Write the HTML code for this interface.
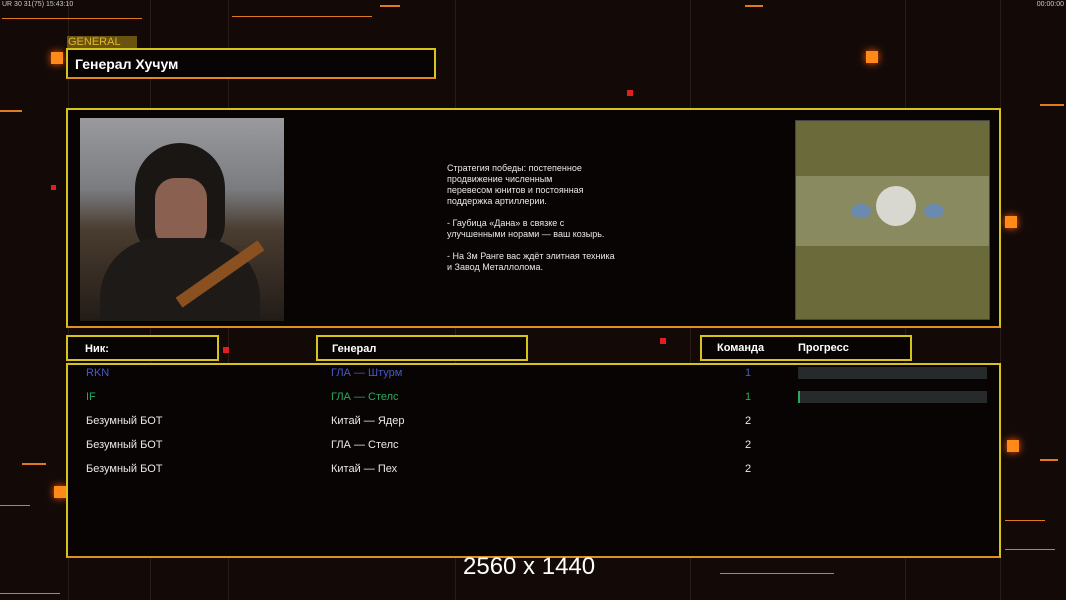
<!DOCTYPE html>
<html><head><meta charset="utf-8"><style>
*{margin:0;padding:0;box-sizing:border-box}
body{width:1066px;height:600px;background:#130a08;position:relative;overflow:hidden;font-family:"Liberation Sans",sans-serif;color:#fff}
.a{position:absolute}
.box{position:absolute;border:2px solid #d8c418;background:#080403}
.t{position:absolute;font-size:11px;color:#e8e8e8}
.h{position:absolute;font-size:11px;font-weight:bold;color:#fff}
.sq{position:absolute;background:#ff8a1a;box-shadow:0 0 8px #ff5a00}
.ln{position:absolute;height:2px;background:#e07a20}
.v{position:absolute;width:1px;background:#2a1d18;top:0;height:600px}
</style></head><body>
<div class="v" style="left:68px"></div><div class="v" style="left:150px"></div><div class="v" style="left:228px"></div><div class="v" style="left:455px"></div><div class="v" style="left:690px"></div><div class="v" style="left:905px"></div><div class="v" style="left:1000px"></div>
<div class="ln" style="left:2px;top:18px;width:140px;height:1px"></div>
<div class="ln" style="left:232px;top:16px;width:140px;height:1px"></div>
<div class="ln" style="left:380px;top:5px;width:20px"></div>
<div class="ln" style="left:745px;top:5px;width:18px"></div>
<div class="ln" style="left:0;top:110px;width:22px"></div>
<div class="ln" style="left:1040px;top:104px;width:24px"></div>
<div class="ln" style="left:1040px;top:459px;width:18px"></div>
<div class="ln" style="left:22px;top:463px;width:24px"></div>
<div class="ln" style="left:0;top:505px;width:30px;height:1px"></div>
<div class="ln" style="left:720px;top:573px;width:114px;height:1px"></div>
<div class="ln" style="left:1005px;top:520px;width:40px;height:1px"></div>
<div class="ln" style="left:1005px;top:549px;width:50px;height:1px"></div>
<div class="ln" style="left:0;top:593px;width:60px;height:1px"></div>
<div class="sq" style="left:51px;top:52px;width:12px;height:12px"></div>
<div class="sq" style="left:866px;top:51px;width:12px;height:12px"></div>
<div class="sq" style="left:1005px;top:216px;width:12px;height:12px"></div>
<div class="sq" style="left:1007px;top:440px;width:12px;height:12px"></div>
<div class="sq" style="left:54px;top:486px;width:12px;height:12px"></div>
<div class="a" style="left:627px;top:90px;width:6px;height:6px;background:#e02020"></div>
<div class="a" style="left:223px;top:347px;width:6px;height:6px;background:#e02020"></div>
<div class="a" style="left:660px;top:338px;width:6px;height:6px;background:#e02020"></div>
<div class="a" style="left:51px;top:185px;width:5px;height:5px;background:#e02020"></div>
<div class="a" style="left:2px;top:1px;font-size:7px;color:#ccc">UR 30 31(75) 15:43:10</div>
<div class="a" style="right:2px;top:1px;font-size:7px;color:#ccc">00:00:00</div>
<div class="a" style="left:67px;top:36px;width:70px;height:12px;background:#6a5210;color:#e0b828;font-size:11px;line-height:12px;padding-left:1px">GENERAL</div>
<div class="box" style="left:66px;top:48px;width:370px;height:31px;border-bottom-color:#e08a20"><span class="h" style="left:7px;top:6px;font-size:14px">Генерал Хучум</span></div>
<div class="box" style="left:66px;top:108px;width:935px;height:220px;border-bottom-color:#e0901e"></div>
<div class="a" style="left:80px;top:118px;width:204px;height:203px;background:linear-gradient(180deg,#9a9a9e 0%,#7a7c80 35%,#4a3c30 55%,#221c18 100%)">
<div class="a" style="left:55px;top:25px;width:90px;height:115px;border-radius:45px 45px 35px 35px;background:#1a1614"></div>
<div class="a" style="left:75px;top:60px;width:52px;height:70px;border-radius:20px;background:#8a6050"></div>
<div class="a" style="left:20px;top:120px;width:160px;height:83px;border-radius:60px 60px 0 0;background:#1e1a18"></div>
<div class="a" style="left:90px;top:150px;width:100px;height:12px;background:#8a5020;transform:rotate(-35deg)"></div>
</div>
<div class="t" style="left:447px;top:163px;font-size:9px;line-height:11px;width:190px">Стратегия победы: постепенное<br>продвижение численным<br>перевесом юнитов и постоянная<br>поддержка артиллерии.<br><br>- Гаубица «Дана» в связке с<br>улучшенными норами — ваш козырь.<br><br>- На 3м Ранге вас ждёт элитная техника<br>и Завод Металлолома.</div>
<div class="a" style="left:795px;top:120px;width:195px;height:200px;background:#6a6a3a;border:1px solid #444">
<div class="a" style="left:0;top:55px;width:193px;height:70px;background:#8a8a60"></div>
<div class="a" style="left:80px;top:65px;width:40px;height:40px;border-radius:50%;background:#d8d8d0"></div>
<div class="a" style="left:55px;top:83px;width:20px;height:14px;border-radius:50%;background:#6a8ab0"></div>
<div class="a" style="left:128px;top:83px;width:20px;height:14px;border-radius:50%;background:#6a8ab0"></div>
</div>
<div class="box" style="left:66px;top:335px;width:153px;height:26px"><span class="h" style="left:17px;top:6px">Ник:</span></div>
<div class="box" style="left:316px;top:335px;width:212px;height:26px"><span class="h" style="left:14px;top:6px">Генерал</span></div>
<div class="box" style="left:700px;top:335px;width:212px;height:26px"><span class="h" style="left:15px;top:5px">Команда</span><span class="h" style="left:96px;top:5px">Прогресс</span></div>
<div class="box" style="left:66px;top:363px;width:935px;height:195px;border-bottom-color:#e0901e"></div>
<div class="t" style="left:86px;top:367px;color:#4858c8">RKN</div><div class="t" style="left:331px;top:367px;color:#4858c8">ГЛА — Штурм</div><div class="t" style="left:745px;top:367px;color:#4858c8">1</div>
<div class="a" style="left:798px;top:367px;width:189px;height:12px;background:#262a2a"></div>
<div class="t" style="left:86px;top:391px;color:#2aa860">IF</div><div class="t" style="left:331px;top:391px;color:#2aa860">ГЛА — Стелс</div><div class="t" style="left:745px;top:391px;color:#2aa860">1</div>
<div class="a" style="left:798px;top:391px;width:189px;height:12px;background:#262a2a;border-left:2px solid #2aa860"></div>
<div class="t" style="left:86px;top:415px">Безумный БОТ</div><div class="t" style="left:331px;top:415px">Китай — Ядер</div><div class="t" style="left:745px;top:415px">2</div>
<div class="t" style="left:86px;top:439px">Безумный БОТ</div><div class="t" style="left:331px;top:439px">ГЛА — Стелс</div><div class="t" style="left:745px;top:439px">2</div>
<div class="t" style="left:86px;top:463px">Безумный БОТ</div><div class="t" style="left:331px;top:463px">Китай — Пех</div><div class="t" style="left:745px;top:463px">2</div>
<div class="a" style="left:463px;top:553px;font-size:24px;color:#fff">2560 x 1440</div>
</body></html>
